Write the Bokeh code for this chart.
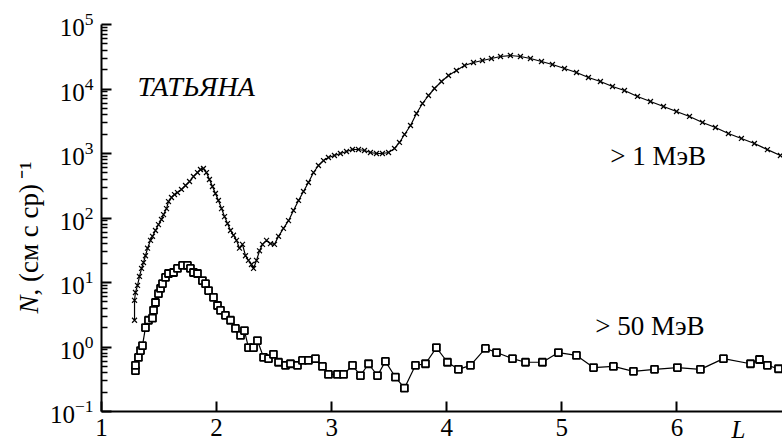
import math
from bokeh.plotting import figure
from bokeh.models import Range1d, FixedTicker, Label
from bokeh.embed import file_html
from bokeh.resources import INLINE

# >1 MeV (crosses)
L_1mev = [1.287, 1.287, 1.295, 1.313, 1.330, 1.348, 1.365, 1.382, 1.400, 1.426, 1.443, 1.469,
          1.495, 1.521, 1.539, 1.565, 1.582, 1.608, 1.634, 1.660, 1.695, 1.730, 1.765, 1.799,
          1.834, 1.860, 1.886, 1.912, 1.938, 1.964, 1.990, 2.016, 2.043, 2.069, 2.095, 2.121,
          2.147, 2.173, 2.199, 2.225, 2.251, 2.277, 2.303, 2.321, 2.347, 2.373, 2.399, 2.434,
          2.468, 2.503, 2.538, 2.581, 2.625, 2.668, 2.712, 2.755, 2.798, 2.842, 2.885, 2.929,
          2.972, 3.024, 3.076, 3.129, 3.181, 3.233, 3.285, 3.337, 3.389, 3.441, 3.494, 3.546,
          3.589, 3.633, 3.685, 3.737, 3.789, 3.841, 3.893, 3.954, 4.015, 4.084, 4.154, 4.232,
          4.310, 4.388, 4.467, 4.553, 4.640, 4.727, 4.823, 4.918, 5.023, 5.127, 5.231, 5.335,
          5.440, 5.544, 5.657, 5.770, 5.883, 5.996, 6.109, 6.222, 6.334, 6.447, 6.560, 6.673,
          6.786, 6.899]
N_1mev = [2.6, 5.3, 7.0, 9.0, 12.4, 16.5, 20.4, 26, 34, 45, 52, 64,
          79, 95, 113, 140, 180, 208, 231, 248, 277, 319, 368, 440,
          507, 565, 585, 507, 395, 308, 240, 187, 140, 105, 82, 64,
          54, 45, 34, 39, 26, 22, 19, 16.5, 22, 31, 39, 45,
          40, 39, 52, 69, 91, 131, 187, 258, 355, 507, 651, 778,
          867, 931, 1000, 1074, 1153, 1153, 1114, 1037, 1000, 1000, 1037, 1197,
          1483, 1973, 2718, 4170, 5956, 7925, 10180, 13070, 16200, 19350, 23130, 25770,
          27680, 29720, 31920, 33060, 31920, 29720, 26680, 23990, 20800, 18030, 15080, 13070,
          10930, 9480, 7660, 6400, 5350, 4480, 3750, 3030, 2530, 2040, 1710, 1430,
          1150, 931]

# >50 MeV (squares)
L_50mev = [1.295, 1.295, 1.321, 1.339, 1.356, 1.382, 1.408, 1.443, 1.452, 1.469, 1.495, 1.513,
           1.530, 1.556, 1.582, 1.626, 1.660, 1.704, 1.747, 1.773, 1.799, 1.834, 1.877, 1.904,
           1.930, 1.973, 2.008, 2.034, 2.077, 2.121, 2.164, 2.208, 2.242, 2.277, 2.321, 2.355,
           2.408, 2.451, 2.494, 2.538, 2.599, 2.642, 2.703, 2.746, 2.798, 2.859, 2.920, 2.972,
           3.050, 3.103, 3.181, 3.250, 3.320, 3.398, 3.467, 3.554, 3.632, 3.728, 3.815, 3.910,
           4.006, 4.101, 4.206, 4.336, 4.432, 4.571, 4.684, 4.831, 4.970, 5.127, 5.275, 5.448,
           5.622, 5.805, 6.004, 6.204, 6.404, 6.639, 6.717, 6.786, 6.882]
N_50mev = [0.43, 0.52, 0.69, 0.88, 1.05, 2.0, 2.6, 2.8, 3.7, 4.9, 6.7, 8.1,
           9.6, 12.0, 13.8, 14.3, 16.5, 18.4, 18.4, 16.5, 14.3, 13.8, 10.7, 9.6,
           7.5, 5.9, 4.4, 3.7, 3.1, 2.6, 1.94, 1.51, 1.80, 0.98, 0.98, 1.26,
           0.69, 0.66, 0.77, 0.58, 0.52, 0.55, 0.52, 0.62, 0.62, 0.66, 0.50, 0.375,
           0.375, 0.375, 0.52, 0.36, 0.55, 0.36, 0.60, 0.34, 0.23, 0.52, 0.55, 0.98,
           0.58, 0.45, 0.52, 0.95, 0.82, 0.66, 0.58, 0.58, 0.82, 0.74, 0.48, 0.50,
           0.42, 0.45, 0.48, 0.45, 0.66, 0.55, 0.64, 0.52, 0.46]

x_ticks = [1, 2, 3, 4, 5, 6]
y_decades = [-1, 0, 1, 2, 3, 4, 5]

FONT = "Liberation Serif"

p = figure(width=782, height=447, output_backend="svg", toolbar_location=None,
           x_range=Range1d(1, 6.917), y_range=Range1d(0.1, 1e5), y_axis_type="log",
           min_border_left=101, min_border_right=0, min_border_top=24, min_border_bottom=36)
p.outline_line_color = None
p.grid.visible = False
p.background_fill_color = "white"
p.border_fill_color = "white"

# axes
xa = p.xaxis[0]
xa.ticker = FixedTicker(ticks=x_ticks, minor_ticks=[])
xa.axis_line_width = 2
xa.major_tick_in = 10
xa.major_tick_out = 0
xa.major_tick_line_width = 2
xa.minor_tick_in = 0
xa.minor_tick_out = 0
xa.major_label_text_font = FONT
xa.major_label_text_font_size = "25px"
xa.major_label_text_color = "black"
xa.major_label_standoff = 7

ya = p.yaxis[0]
majors = [10.0 ** d for d in y_decades]
minors = [k * 10.0 ** d for d in y_decades[:-1] for k in range(2, 10)]
ya.ticker = FixedTicker(ticks=majors, minor_ticks=minors)
ya.axis_line_width = 2
ya.major_tick_in = 10
ya.major_tick_out = 0
ya.major_tick_line_width = 2
ya.minor_tick_in = 6
ya.minor_tick_out = 0
ya.minor_tick_line_width = 1.5
ya.major_label_text_font = FONT
ya.major_label_text_font_size = "25px"
ya.major_label_text_color = "black"
ya.major_label_standoff = 8

# curves
p.line(L_1mev, N_1mev, line_color="black", line_width=1.2)
p.scatter(L_1mev, N_1mev, marker="x", size=7, line_color="black", line_width=1.2)
p.line(L_50mev, N_50mev, line_color="black", line_width=1.2)
p.scatter(L_50mev, N_50mev, marker="square", size=7, line_color="black",
          fill_color="white", line_width=1.8)

# texts (anchored at their vertical middle)
def lab(x, y, text, size="24px", style="normal", align="left", angle=0.0, place=None):
    l = Label(x=x, y=y, text=text, text_font=FONT, text_font_size=size,
              text_font_style=style, text_color="black", text_align=align,
              text_baseline="middle", angle=angle)
    if place is None:
        p.add_layout(l)
    else:
        p.add_layout(l, place)

lab(1.313, 10900, "ТАТЬЯНА", size="28px", style="italic")
lab(5.42, 931, "> 1 МэВ", size="27px")
lab(5.29, 2.15, "> 50 МэВ", size="27px")
lab(6.534, 0.053, "L", size="25px", style="italic", align="center", place="left")
lab(0.366, 3.3, "N", size="27px", style="italic", angle=math.pi / 2, place="above")
lab(0.366, 6.28, ", (см с ср)\u2009⁻¹", size="27px", angle=math.pi / 2, place="left")

open("out.html", "w").write(file_html(p, INLINE))
